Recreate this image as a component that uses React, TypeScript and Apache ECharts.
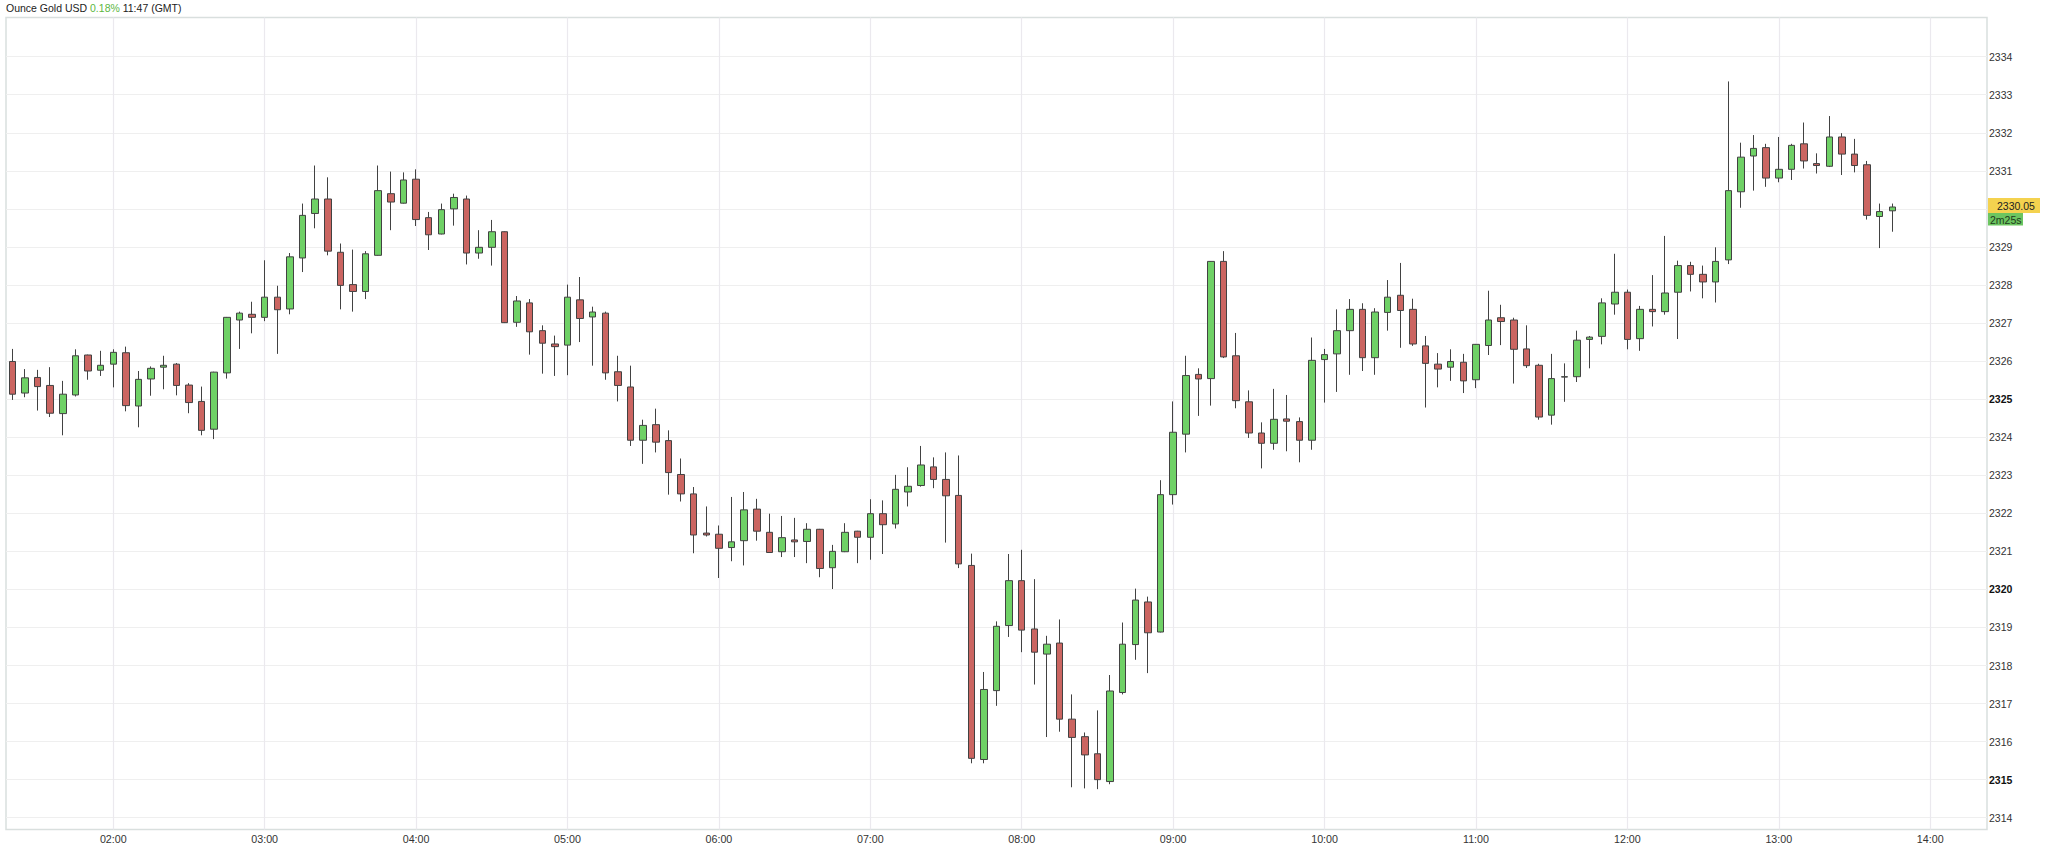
import * as echarts from 'echarts';
import { useEffect, useRef } from 'react';

// 5 minute candles, 01:20 to 13:45. The extra slots after that are empty space up to the right edge.
const times = [
    '01:20', '01:25', '01:30', '01:35', '01:40', '01:45', '01:50', '01:55',
    '02:00', '02:05', '02:10', '02:15', '02:20', '02:25', '02:30', '02:35', '02:40', '02:45', '02:50', '02:55',
    '03:00', '03:05', '03:10', '03:15', '03:20', '03:25', '03:30', '03:35', '03:40', '03:45', '03:50', '03:55',
    '04:00', '04:05', '04:10', '04:15', '04:20', '04:25', '04:30', '04:35', '04:40', '04:45', '04:50', '04:55',
    '05:00', '05:05', '05:10', '05:15', '05:20', '05:25', '05:30', '05:35', '05:40', '05:45', '05:50', '05:55',
    '06:00', '06:05', '06:10', '06:15', '06:20', '06:25', '06:30', '06:35', '06:40', '06:45', '06:50', '06:55',
    '07:00', '07:05', '07:10', '07:15', '07:20', '07:25', '07:30', '07:35', '07:40', '07:45', '07:50', '07:55',
    '08:00', '08:05', '08:10', '08:15', '08:20', '08:25', '08:30', '08:35', '08:40', '08:45', '08:50', '08:55',
    '09:00', '09:05', '09:10', '09:15', '09:20', '09:25', '09:30', '09:35', '09:40', '09:45', '09:50', '09:55',
    '10:00', '10:05', '10:10', '10:15', '10:20', '10:25', '10:30', '10:35', '10:40', '10:45', '10:50', '10:55',
    '11:00', '11:05', '11:10', '11:15', '11:20', '11:25', '11:30', '11:35', '11:40', '11:45', '11:50', '11:55',
    '12:00', '12:05', '12:10', '12:15', '12:20', '12:25', '12:30', '12:35', '12:40', '12:45', '12:50', '12:55',
    '13:00', '13:05', '13:10', '13:15', '13:20', '13:25', '13:30', '13:35', '13:40', '13:45', '13:50', '13:55',
    '14:00', '14:05', '14:10', '14:15', '14:20',
];

const opens = [
    2325.99, 2325.16, 2325.57, 2325.36, 2324.62, 2325.11, 2326.16, 2325.76, 2325.92, 2326.22,
    2324.82, 2325.53, 2325.84, 2325.92, 2325.37, 2324.94, 2324.21, 2325.69, 2327.08, 2327.23,
    2327.15, 2327.68, 2327.37, 2328.71, 2329.88, 2330.26, 2328.86, 2328.01, 2327.83, 2328.78,
    2330.40, 2330.15, 2330.78, 2329.77, 2329.34, 2330.00, 2330.26, 2328.84, 2328.99, 2329.40,
    2327.02, 2327.53, 2326.80, 2326.45, 2326.42, 2327.61, 2327.16, 2327.26, 2325.72, 2325.32,
    2323.92, 2324.33, 2323.91, 2323.02, 2322.51, 2321.48, 2321.45, 2321.10, 2321.28, 2322.11,
    2321.50, 2320.99, 2321.30, 2321.26, 2321.58, 2320.57, 2320.99, 2321.53, 2321.37, 2321.99,
    2321.72, 2322.56, 2322.73, 2323.22, 2322.89, 2322.47, 2320.63, 2315.53, 2317.34, 2319.05,
    2320.23, 2318.96, 2318.30, 2318.59, 2316.59, 2316.13, 2315.68, 2314.95, 2317.29, 2318.55,
    2319.67, 2318.88, 2322.49, 2324.08, 2325.65, 2325.54, 2328.62, 2326.14, 2324.93, 2324.11,
    2323.84, 2324.48, 2324.41, 2323.92, 2326.04, 2326.19, 2326.80, 2327.36, 2326.09, 2327.28,
    2327.73, 2327.36, 2326.40, 2325.92, 2325.84, 2325.97, 2325.51, 2326.41, 2327.14, 2327.08,
    2326.32, 2325.89, 2324.58, 2325.58, 2325.59, 2326.57, 2326.65, 2327.50, 2327.81, 2326.59,
    2327.36, 2327.30, 2327.81, 2328.51, 2328.28, 2328.08, 2328.66, 2330.45, 2331.39, 2331.61,
    2330.81, 2331.04, 2331.71, 2331.19, 2331.12, 2331.89, 2331.44, 2331.16, 2329.80, 2329.95,
];

const closes = [
    2325.13, 2325.56, 2325.33, 2324.63, 2325.13, 2326.14, 2325.74, 2325.89, 2326.23, 2324.83,
    2325.52, 2325.81, 2325.89, 2325.36, 2324.91, 2324.18, 2325.71, 2327.15, 2327.26, 2327.15,
    2327.68, 2327.35, 2328.74, 2329.83, 2330.26, 2328.89, 2327.99, 2327.83, 2328.82, 2330.48,
    2330.18, 2330.76, 2329.72, 2329.32, 2329.98, 2330.30, 2328.84, 2328.99, 2329.40, 2327.01,
    2327.58, 2326.77, 2326.47, 2326.38, 2327.68, 2327.12, 2327.29, 2325.69, 2325.36, 2323.92,
    2324.31, 2323.87, 2323.07, 2322.51, 2321.43, 2321.43, 2321.08, 2321.25, 2322.09, 2321.53,
    2320.97, 2321.36, 2321.25, 2321.58, 2320.55, 2321.00, 2321.50, 2321.37, 2321.99, 2321.70,
    2322.63, 2322.71, 2323.27, 2322.89, 2322.46, 2320.67, 2315.56, 2317.37, 2319.03, 2320.23,
    2318.93, 2318.35, 2318.56, 2316.59, 2316.11, 2315.65, 2315.00, 2317.33, 2318.56, 2319.72,
    2318.86, 2322.49, 2324.13, 2325.62, 2325.53, 2328.62, 2326.11, 2324.96, 2324.11, 2323.84,
    2324.47, 2324.42, 2323.92, 2326.02, 2326.17, 2326.80, 2327.36, 2326.09, 2327.29, 2327.68,
    2327.33, 2326.45, 2325.94, 2325.79, 2325.99, 2325.48, 2326.44, 2327.08, 2327.04, 2326.31,
    2325.88, 2324.53, 2325.54, 2325.59, 2326.55, 2326.63, 2327.53, 2327.81, 2326.57, 2327.36,
    2327.30, 2327.79, 2328.51, 2328.28, 2328.08, 2328.62, 2330.48, 2331.36, 2331.59, 2330.81,
    2331.04, 2331.67, 2331.26, 2331.14, 2331.89, 2331.44, 2331.14, 2329.83, 2329.93, 2330.05,
];

const lows = [
    2324.98, 2325.05, 2324.70, 2324.53, 2324.05, 2325.07, 2325.51, 2325.61, 2325.31, 2324.68,
    2324.26, 2325.09, 2325.26, 2325.10, 2324.63, 2324.05, 2323.95, 2325.54, 2326.32, 2326.73,
    2327.05, 2326.19, 2327.23, 2328.34, 2329.49, 2328.78, 2327.36, 2327.30, 2327.63, 2328.77,
    2329.44, 2330.14, 2329.55, 2328.92, 2329.33, 2329.56, 2328.54, 2328.69, 2328.51, 2327.00,
    2326.90, 2326.17, 2325.67, 2325.61, 2325.63, 2326.50, 2325.88, 2325.51, 2324.94, 2323.77,
    2323.30, 2323.60, 2322.49, 2322.31, 2320.95, 2321.39, 2320.30, 2320.74, 2320.63, 2321.28,
    2320.96, 2320.85, 2320.85, 2320.69, 2320.32, 2320.01, 2320.98, 2320.69, 2320.78, 2320.93,
    2321.60, 2322.18, 2322.70, 2322.66, 2321.23, 2320.56, 2315.43, 2315.43, 2316.94, 2318.75,
    2318.35, 2317.50, 2316.12, 2316.26, 2314.80, 2314.77, 2314.75, 2314.88, 2317.24, 2318.15,
    2317.80, 2318.87, 2322.23, 2323.60, 2324.56, 2324.83, 2326.08, 2324.76, 2323.98, 2323.18,
    2323.67, 2323.63, 2323.34, 2323.67, 2324.91, 2325.19, 2325.64, 2325.74, 2325.64, 2326.80,
    2326.35, 2326.40, 2324.78, 2325.31, 2325.48, 2325.16, 2325.29, 2326.16, 2326.42, 2325.41,
    2325.82, 2324.46, 2324.33, 2324.93, 2325.45, 2325.81, 2326.44, 2327.22, 2326.31, 2326.27,
    2326.91, 2327.22, 2326.58, 2327.83, 2327.65, 2327.54, 2328.55, 2330.03, 2330.48, 2330.58,
    2330.70, 2330.76, 2331.06, 2330.93, 2331.10, 2330.89, 2330.96, 2329.72, 2328.97, 2329.40,
];

const highs = [
    2326.32, 2325.79, 2325.77, 2325.84, 2325.48, 2326.31, 2326.17, 2326.27, 2326.31, 2326.38,
    2325.74, 2325.86, 2326.14, 2325.95, 2325.42, 2325.33, 2325.72, 2327.16, 2327.30, 2327.56,
    2328.65, 2327.98, 2328.84, 2330.14, 2331.14, 2330.83, 2329.09, 2328.93, 2328.89, 2331.14,
    2330.98, 2330.96, 2331.04, 2329.92, 2330.14, 2330.40, 2330.35, 2329.44, 2329.71, 2329.41,
    2327.71, 2327.63, 2326.94, 2326.67, 2328.01, 2328.21, 2327.43, 2327.30, 2326.14, 2325.88,
    2324.46, 2324.75, 2324.18, 2323.44, 2322.69, 2322.18, 2321.68, 2322.43, 2322.56, 2322.38,
    2321.99, 2321.93, 2321.88, 2321.74, 2321.59, 2321.17, 2321.74, 2321.54, 2322.37, 2322.34,
    2323.01, 2323.21, 2323.77, 2323.47, 2323.60, 2323.52, 2320.94, 2317.83, 2319.16, 2320.93,
    2321.04, 2320.27, 2318.78, 2319.21, 2317.24, 2316.24, 2316.82, 2317.75, 2319.13, 2320.02,
    2319.81, 2322.87, 2324.94, 2326.14, 2325.81, 2328.63, 2328.89, 2326.74, 2325.23, 2324.39,
    2325.27, 2325.11, 2324.52, 2326.62, 2326.32, 2327.36, 2327.63, 2327.52, 2327.39, 2328.13,
    2328.58, 2327.64, 2326.66, 2326.21, 2326.31, 2326.19, 2326.45, 2327.85, 2327.48, 2327.14,
    2326.94, 2325.93, 2326.19, 2325.94, 2326.80, 2326.66, 2327.65, 2328.82, 2327.88, 2327.45,
    2328.26, 2329.29, 2328.64, 2328.61, 2328.51, 2328.99, 2333.35, 2331.74, 2331.94, 2331.71,
    2331.89, 2331.71, 2332.27, 2331.46, 2332.44, 2331.99, 2331.84, 2331.26, 2330.14, 2330.14,
];

const priceTicks = [
    2314, 2315, 2316, 2317, 2318, 2319, 2320, 2321, 2322, 2323, 2324,
    2325, 2326, 2327, 2328, 2329, 2330, 2331, 2332, 2333, 2334,
];
// the 2330 label sits under the last price tag in the picture
const priceLabels = priceTicks.filter((p) => p !== 2330);
const boldPrices = [2315, 2320, 2325];
const lastPrice = '2330.05';
const countdown = '2m25s';

const FONT = '"Liberation Sans", Arial, sans-serif';

export default function App() {
    const chartRef = useRef<HTMLDivElement>(null);

    useEffect(() => {
        const chart = echarts.init(chartRef.current, null, { renderer: 'svg' });

        const onHour = (_: number, value: string) => value.endsWith(':00');

        chart.setOption({
            animation: false,
            backgroundColor: '#fff',
            title: {
                left: 6,
                top: 2,
                padding: 0,
                text: '{a|Ounce Gold USD} {g|0.18%} {a|11:47 (GMT)}',
                textStyle: {
                    fontFamily: FONT,
                    fontSize: 10.5,
                    fontWeight: 'normal',
                    rich: {
                        a: { fontFamily: FONT, fontSize: 10.5, fontWeight: 'normal', color: '#222' },
                        g: { fontFamily: FONT, fontSize: 10.5, fontWeight: 'normal', color: '#5cb73f' },
                    },
                },
            },
            grid: {
                left: 6,
                right: 61,
                top: 17.5,
                bottom: 17.5,
                show: true,
                borderColor: '#d9dfde',
                borderWidth: 1.5,
            },
            xAxis: {
                type: 'category',
                data: times,
                axisLine: { show: false },
                axisTick: { show: false },
                axisLabel: {
                    interval: onHour,
                    margin: 4,
                    fontFamily: FONT,
                    fontSize: 10.7,
                    color: '#333',
                },
                splitLine: {
                    show: true,
                    interval: onHour,
                    alignWithLabel: true,
                    lineStyle: { color: '#ebe9ee', width: 1.2 },
                },
            },
            yAxis: {
                type: 'value',
                position: 'right',
                min: 2313.69,
                max: 2335.03,
                axisLine: { show: false },
                axisTick: { show: false, customValues: priceTicks },
                axisLabel: {
                    customValues: priceLabels,
                    margin: 2,
                    fontFamily: FONT,
                    fontSize: 10.5,
                    color: '#333',
                    formatter: (value: number) =>
                        boldPrices.includes(value) ? `{b|${value}}` : `${value}`,
                    rich: {
                        b: { fontFamily: FONT, fontSize: 10.5, fontWeight: 'bold', color: '#111' },
                    },
                },
                splitLine: {
                    show: true,
                    lineStyle: { color: '#efefef', width: 1.2 },
                },
            },
            series: [
                {
                    type: 'candlestick',
                    barWidth: 7,
                    data: opens.map((o, i) => [o, closes[i], lows[i], highs[i]]),
                    itemStyle: {
                        color: '#6fd166',
                        color0: '#cb6561',
                        borderColor: '#424242',
                        borderColor0: '#424242',
                        borderWidth: 1,
                    },
                },
            ],
            graphic: [
                {
                    type: 'rect',
                    shape: { x: 1988, y: 198, width: 52, height: 15 },
                    style: { fill: '#f4d24f' },
                },
                {
                    type: 'rect',
                    shape: { x: 1988, y: 213, width: 35, height: 12.5 },
                    style: { fill: '#6cc560' },
                },
                {
                    type: 'text',
                    x: 1997,
                    y: 206,
                    style: { text: lastPrice, font: `10.5px ${FONT}`, fill: '#222', verticalAlign: 'middle' },
                },
                {
                    type: 'text',
                    x: 1990,
                    y: 219.5,
                    style: { text: countdown, font: `10.5px ${FONT}`, fill: '#1f3a1c', verticalAlign: 'middle' },
                },
            ],
        });

        return () => {
            chart.dispose();
        };
    }, []);

    return <div
        ref={chartRef}
        style={{
            position: 'absolute',
            left: 0,
            top: 0,
            width: 2048,
            height: 847,
        }}
    />
}
